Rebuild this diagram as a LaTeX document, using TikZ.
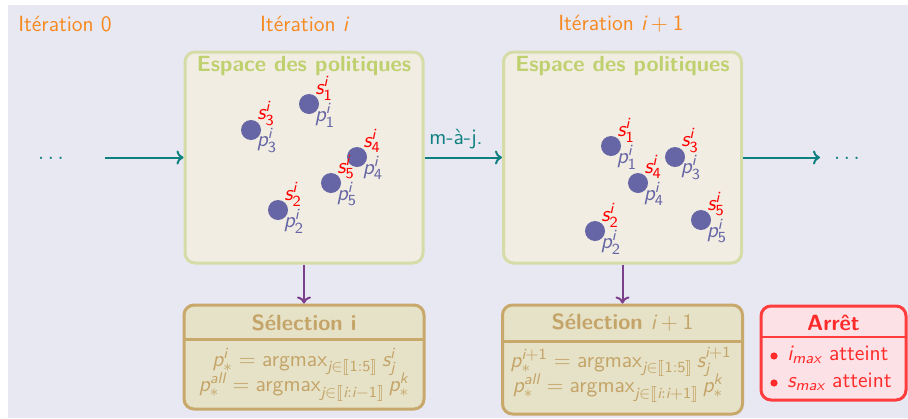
\documentclass[tikz,border=0pt]{standalone}
\usepackage{amsmath}
\usepackage{stmaryrd}
\usetikzlibrary{arrows.meta}
\renewcommand{\familydefault}{\sfdefault}
\newcommand{\mv}[1]{\text{\normalfont\sffamily\slshape #1}}
\newcommand{\mo}[1]{\text{\normalfont\sffamily #1}}
\newcommand{\basefont}{\sffamily\fontsize{11}{13}\selectfont}
\definecolor{bgl}{HTML}{E8E8F2}
\definecolor{espfill}{HTML}{F2EDE2}
\definecolor{espdraw}{HTML}{D6DCA8}
\definecolor{esptitle}{HTML}{BFD06E}
\definecolor{selfill}{HTML}{E6E2C7}
\definecolor{seldraw}{HTML}{C8A86B}
\definecolor{seltext}{HTML}{C4A468}
\definecolor{arfill}{HTML}{FCE2E6}
\definecolor{ardraw}{HTML}{FF3D3D}
\definecolor{artext}{HTML}{FF2A2A}
\definecolor{dotc}{HTML}{6666A6}
\definecolor{itorange}{HTML}{F6891F}
\definecolor{arrpurple}{HTML}{7B3F8C}
\definecolor{tealc}{HTML}{0E8080}
\tikzset{
  itlabel/.style={text=itorange},
  espbox/.style={draw=espdraw, line width=1.5pt, fill=espfill, rounded corners=5pt,
    minimum width=119pt, minimum height=105.5pt, inner sep=0pt},
  esptitle/.style={text=esptitle, font=\basefont\bfseries},
  dot/.style={circle, fill=dotc, minimum size=10pt, inner sep=0pt},
  slab/.style={text=red, inner sep=0pt},
  plab/.style={text=dotc, inner sep=0pt},
  selbox/.style={draw=seldraw, line width=1.5pt, fill=selfill, rounded corners=5pt,
    minimum width=120pt, inner sep=0pt},
  seltitle/.style={text=seltext, font=\basefont\bfseries},
  seltxt/.style={text=seltext, inner sep=0pt},
  arbox/.style={draw=ardraw, line width=1.5pt, fill=arfill, rounded corners=5pt,
    minimum width=72.5pt, minimum height=47pt, inner sep=0pt},
  artitle/.style={text=artext, font=\basefont\bfseries},
  artxt/.style={text=artext, inner sep=0pt, anchor=west},
  arbullet/.style={circle, fill=artext, minimum size=3.6pt, inner sep=0pt},
  tealarrow/.style={draw=tealc, line width=1pt, -{To[length=3.5pt,width=7pt]}},
  purparrow/.style={draw=arrpurple, line width=1pt, -{To[length=3.5pt,width=7pt]}},
  dotstxt/.style={text=tealc, anchor=base},
}
\begin{document}
\begin{tikzpicture}[x=0.5pt,y=-0.5pt,font=\basefont]
\useasboundingbox (0,0) rectangle (908,418);
\fill[white] (0,0) rectangle (908,418);
\fill[bgl] (8,5) rectangle (908,418);

% iteration labels
\node[itlabel] (it0) at (65,24) {Itération 0};
\node[itlabel] (iti) at (304,24) {Itération $\mv{i}$};
\node[itlabel] (itj) at (621,24) {Itération $\mv{i}+\mo{1}$};

% policy spaces
\node[espbox] (e1) at (304,157.5) {};
\node[espbox] (e2) at (622.5,157.5) {};
\node[esptitle] (e1t) at (304,66) {Espace des politiques};
\node[esptitle] (e2t) at (622.5,66) {Espace des politiques};

\foreach \n/\x/\y in {1/309/104, 2/278/210, 3/251/130, 4/357/157, 5/331/183}{
  \node[dot] (a\n) at (\x,\y) {};
  \node[slab] (as\n) at (\x+15,\y-16) {$\mv{s}^{\mv{i}}_{\mo{\n}}$};
  \node[plab] (ap\n) at (\x+16,\y+11) {$\mv{p}^{\mv{i}}_{\mo{\n}}$};
}
\foreach \n/\x/\y in {1/611/146, 2/595/231, 3/675/157, 4/638/183, 5/701/220}{
  \node[dot] (b\n) at (\x,\y) {};
  \node[slab] (bs\n) at (\x+15,\y-16) {$\mv{s}^{\mv{i}}_{\mo{\n}}$};
  \node[plab] (bp\n) at (\x+16,\y+11) {$\mv{p}^{\mv{i}}_{\mo{\n}}$};
}

% arrows between iterations
\node[dotstxt] (ldots) at (51,159.5) {$\ldots$};
\coordinate (lstart) at (105,157.5);
\draw[tealarrow] (lstart) -- (e1.west);
\draw[tealarrow] (e1.east) -- (e2.west);
\node[text=tealc] (maj) at (456,139) {m-à-j.};
\coordinate (rend) at (820,157.5);
\draw[tealarrow] (e2.east) -- (rend);
\node[dotstxt] (rdots) at (847,159.5) {$\ldots$};

% selection boxes
\node[selbox, minimum height=52pt] (s1) at (304,357) {};
\node[selbox, minimum height=54.5pt] (s2) at (622.5,359.5) {};
\coordinate (s1l) at (184,339.5);
\coordinate (s1r) at (424,339.5);
\draw[seldraw, line width=1.3pt] (s1l) -- (s1r);
\coordinate (s2l) at (502.5,341.5);
\coordinate (s2r) at (742.5,341.5);
\draw[seldraw, line width=1.3pt] (s2l) -- (s2r);
\node[seltitle] (s1t) at (304,323) {Sélection i};
\node[seltitle] (s2t) at (622.5,323) {Sélection $\mv{i}+\mo{1}$};
\node[seltxt] (s1a) at (304,362) {$\mv{p}^{\mv{i}}_{*} = \mo{argmax}_{\mv{j}\in\llbracket \mo{1:5}\rrbracket}\, \mv{s}^{\mv{i}}_{\mv{j}}$};
\node[seltxt] (s1b) at (304,387) {$\mv{p}^{\mv{all}}_{*} = \mo{argmax}_{\mv{j}\in\llbracket \mv{i}:\mv{i}-\mo{1}\rrbracket}\, \mv{p}^{\mv{k}}_{*}$};
\node[seltxt] (s2a) at (621,362) {$\mv{p}^{\mv{i}+\mo{1}}_{*} = \mo{argmax}_{\mv{j}\in\llbracket \mo{1:5}\rrbracket}\, \mv{s}^{\mv{i}+\mo{1}}_{\mv{j}}$};
\node[seltxt] (s2b) at (618,388) {$\mv{p}^{\mv{all}}_{*} = \mo{argmax}_{\mv{j}\in\llbracket \mv{i}:\mv{i}+\mo{1}\rrbracket}\, \mv{p}^{\mv{k}}_{*}$};

\draw[purparrow] (e1.south) -- (s1.north);
\draw[purparrow] (e2.south) -- (s2.north);

% stop box
\node[arbox] (ar) at (833.5,353) {};
\coordinate (arl) at (761.5,337);
\coordinate (arr) at (905.5,337);
\draw[ardraw, line width=1.3pt] (arl) -- (arr);
\node[artitle] (art) at (833.5,323) {Arrêt};
\node[arbullet] (bu1) at (774,356) {};
\node[arbullet] (bu2) at (774,383) {};
\node[artxt] (ar1) at (787,355) {$\mv{i}_{\mv{max}}$ atteint};
\node[artxt] (ar2) at (787,382) {$\mv{s}_{\mv{max}}$ atteint};
\end{tikzpicture}
\end{document}
